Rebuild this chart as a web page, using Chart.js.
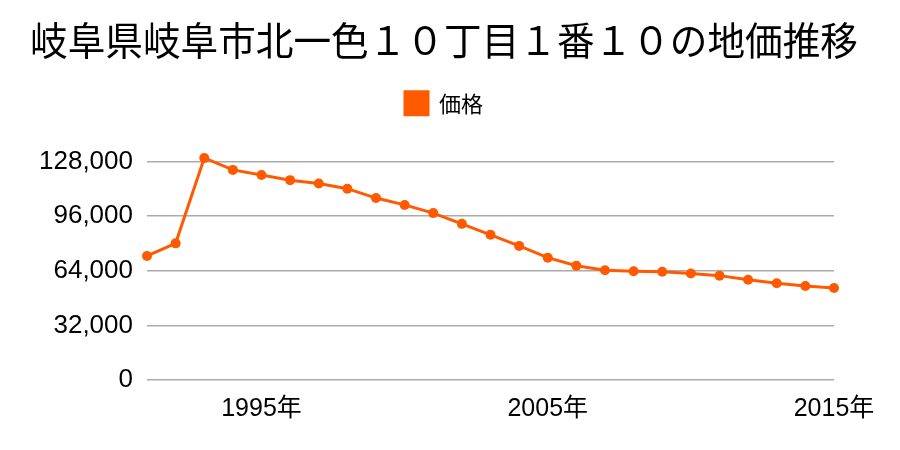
<!DOCTYPE html>
<html>
<head>
<meta charset="utf-8">
<script src="https://cdn.jsdelivr.net/npm/chart.js@4/dist/chart.umd.min.js"></script>
<style>
  html, body { margin: 0; padding: 0; background: #fff; }
  #wrap { width: 900px; height: 450px; }
</style>
</head>
<body>
<div id="wrap"><canvas id="priceChart" width="900" height="450"></canvas></div>
<script>
const years = [
    "1991", "1992", "1993", "1994", "1995", "1996", "1997", "1998", "1999", "2000",
    "2001", "2002", "2003", "2004", "2005", "2006", "2007", "2008", "2009", "2010",
    "2011", "2012", "2013", "2014", "2015",
];
const prices = [
    72600, 80000, 130000, 123000, 120000, 117000, 115000, 112000, 106500, 102500,
    97700, 91400, 85000, 78500, 71600, 66900, 64300, 63700, 63400, 62300,
    61100, 58700, 56600, 55000, 53900,
];
const shownYears = ["1995", "2005", "2015"];
const yTicks = [0, 32000, 64000, 96000, 128000];

const cjk = "'Noto Sans CJK JP', 'Noto Sans', sans-serif";
const latin = "'Liberation Sans', 'Noto Sans CJK JP', sans-serif";
const orange = "#ff5a00";

new Chart(document.getElementById("priceChart").getContext("2d"), {
    type: "line",
    data: {
        labels: years,
        datasets: [
            {
                label: "価格",
                data: prices,
                borderColor: orange,
                backgroundColor: orange,
                borderWidth: 3,
                pointRadius: 5,
                pointBackgroundColor: orange,
                pointBorderWidth: 0,
                tension: 0,
            },
        ],
    },
    options: {
        responsive: false,
        animation: false,
        layout: { padding: { left: 30, right: 42, top: 0, bottom: 20 } },
        plugins: {
            title: {
                display: true,
                text: "岐阜県岐阜市北一色１０丁目１番１０の地価推移",
                color: "#000",
                font: { family: cjk, size: 39, weight: "normal" },
                padding: { top: 17, bottom: 9 },
            },
            legend: {
                position: "top",
                labels: {
                    color: "#000",
                    font: { family: cjk, size: 22 },
                    boxWidth: 23,
                    boxHeight: 23,
                    padding: 19,
                },
            },
            tooltip: { enabled: false },
        },
        scales: {
            x: {
                grid: { display: false },
                border: { display: false },
                ticks: {
                    color: "#000",
                    padding: 6,
                    font: { family: latin, size: 25 },
                    autoSkip: false,
                    maxRotation: 0,
                    callback: function (value) {
                        const y = this.getLabelForValue(value);
                        return shownYears.includes(y) ? y + "年" : "";
                    },
                },
            },
            y: {
                min: 0,
                max: 149400,
                afterBuildTicks: (axis) => {
                    axis.ticks = yTicks.map((v) => ({ value: v }));
                },
                afterFit: (axis) => {
                    axis.width = 117;
                },
                grid: { color: "#aaaaaa", lineWidth: 1.5, drawTicks: false },
                border: { display: false },
                ticks: {
                    color: "#000",
                    padding: 14,
                    font: { family: latin, size: 26 },
                    callback: (v) => v.toLocaleString("en-US"),
                },
            },
            // empty spacer on the right so the plot ends where the reference does
            spacer: {
                type: "linear",
                position: "right",
                grid: { display: false },
                border: { display: false },
                ticks: { display: false },
                afterFit: (axis) => {
                    axis.width = 24;
                },
            },
        },
    },
});
</script>
</body>
</html>
